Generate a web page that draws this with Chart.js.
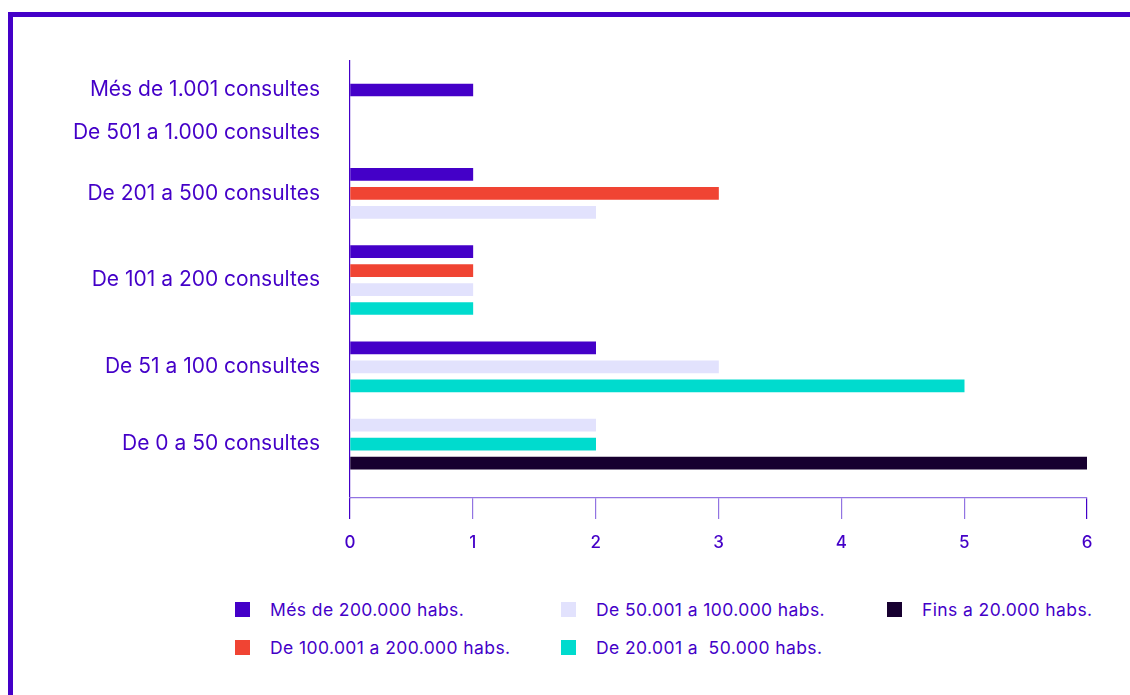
<!DOCTYPE html>
<html lang="ca">
<head>
<meta charset="UTF-8">
<script src="https://cdn.jsdelivr.net/npm/chart.js"></script>
<title>Consultes per mida de municipi</title>
<style>
    html, body { margin: 0; padding: 0; background: #ffffff; }
    body { width: 1130px; height: 695px; position: relative; overflow: hidden; font-family: Inter, "Noto Sans", sans-serif; }
    .frame {
        position: absolute; left: 8px; top: 12px; right: 0; bottom: 0;
        border-top: 5px solid #4400c8; border-left: 5px solid #4400c8;
    }
    .chart-box { position: absolute; left: 0; top: 0; width: 1130px; height: 560px; }
    #legend {
        position: absolute; left: 235px; top: 597px;
        display: grid; grid-auto-flow: column; grid-template-rows: 38px 38px;
        grid-template-columns: 326px 326px 240px;
        color: #4400c8; font-size: 17.5px; letter-spacing: 0.4px;
    }
    .item { display: flex; align-items: center; height: 24px; white-space: pre; }
    .item span.box { width: 15px; height: 15px; margin-right: 20px; flex: none; }
</style>
</head>
<body>
<div class="frame"></div>
<div class="chart-box">
    <canvas id="myChart"></canvas>
</div>
<div id="legend"></div>

<script>
const categories = ['Més de 1.001 consultes', 'De 501 a 1.000 consultes', 'De 201 a 500 consultes',
    'De 101 a 200 consultes', 'De 51 a 100 consultes', 'De 0 a 50 consultes'];
const seriesNames = ['Més de 200.000 habs.', 'De 100.001 a 200.000 habs.', 'De 50.001 a 100.000 habs.',
    'De 20.001 a  50.000 habs.', 'Fins a 20.000 habs.'];
const seriesColors = ['#4400c8', '#f04433', '#e2e2fd', '#00dbce', '#170030'];
const over200k = [1, null, 1, 1, 2, null];
const from100kTo200k = [null, null, 3, 1, null, null];
const from50kTo100k = [null, null, 2, 1, 3, 2];
const from20kTo50k = [null, null, null, 1, 5, 2];
const upTo20k = [null, null, null, null, null, 6];
const seriesValues = [over200k, from100kTo200k, from50kTo100k, from20kTo50k, upTo20k];
const xTicks = [0, 1, 2, 3, 4, 5, 6];

// each category only gets rows for the series it has, so groups have different heights
const GROUP_STEP = 2.07;
const EMPTY_GROUP = 1.3;
const groupCenters = [];
const rowData = seriesValues.map(() => []);
let pos = 0;
categories.forEach((cat, ci) => {
    let n = 0;
    seriesValues.forEach((vals, si) => {
        if (vals[ci] !== null) {
            rowData[si].push({ x: vals[ci], y: pos + n });
            n++;
        }
    });
    const rows = n > 0 ? n : EMPTY_GROUP;
    groupCenters.push(pos + (rows - 1) / 2);
    pos = pos + rows - 1 + GROUP_STEP;
});
const lastRow = pos - GROUP_STEP;

const purple = '#4400c8';
const lightPurple = '#9274e2';

const ctx = document.getElementById('myChart').getContext('2d');
const chart = new Chart(ctx, {
    type: 'bar',
    data: {
        datasets: seriesNames.map((name, i) => ({
            label: name,
            data: rowData[i],
            backgroundColor: seriesColors[i],
            barThickness: 12,
            grouped: false,
        })),
    },
    options: {
        indexAxis: 'y',
        responsive: true,
        maintainAspectRatio: false,
        animation: false,
        layout: { padding: { top: 61, right: 43, left: 0, bottom: 0 } },
        plugins: { legend: { display: false }, tooltip: { enabled: false } },
        scales: {
            y: {
                type: 'linear',
                reverse: true,
                offset: false,
                min: -1.53,
                max: lastRow + 1.84,
                grid: { display: false },
                border: { display: true, color: purple, width: 1.2 },
                afterBuildTicks: (scale) => {
                    scale.ticks = groupCenters.map(v => ({ value: v }));
                },
                afterFit: (scale) => { scale.width = 350; },
                ticks: {
                    padding: 22,
                    color: purple,
                    font: { family: 'Inter', size: 21 },
                    callback: (value, index) => categories[index],
                },
            },
            x: {
                min: 0,
                max: 6,
                afterBuildTicks: (scale) => {
                    scale.ticks = xTicks.map(v => ({ value: v }));
                },
                afterFit: (scale) => { scale.height = 62; },
                grid: {
                    drawOnChartArea: false,
                    drawTicks: true,
                    tickLength: 21,
                    color: (c) => (c.tick && (c.tick.value === 0 || c.tick.value === 6)) ? purple : lightPurple,
                    lineWidth: 1.2,
                },
                border: { display: true, color: lightPurple, width: 1.2 },
                ticks: {
                    padding: 14,
                    color: purple,
                    font: { family: 'Inter', size: 17, weight: 500 },
                },
            },
        },
    },
});

// legend laid out in columns like the original
const legend = document.getElementById('legend');
chart.data.datasets.forEach(ds => {
    const item = document.createElement('div');
    item.className = 'item';
    const box = document.createElement('span');
    box.className = 'box';
    box.style.background = ds.backgroundColor;
    const txt = document.createElement('span');
    txt.textContent = ds.label;
    item.appendChild(box);
    item.appendChild(txt);
    legend.appendChild(item);
});
</script>
</body>
</html>
